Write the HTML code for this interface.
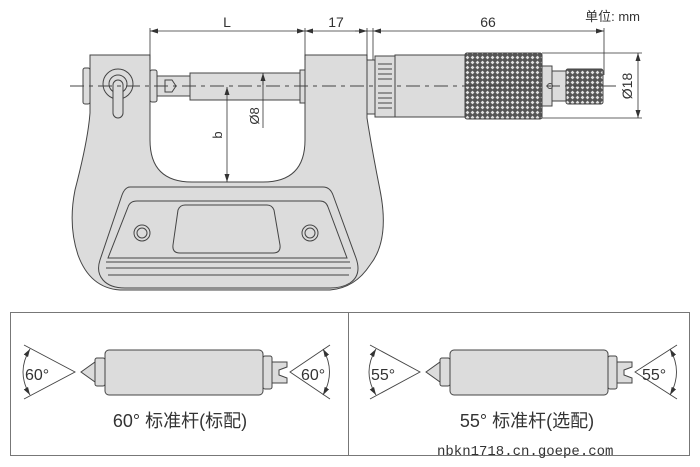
<!DOCTYPE html>
<html><head><meta charset="utf-8"><style>
html,body{margin:0;padding:0;background:#fff;}
svg{display:block;}
text{font-family:"Liberation Sans","Noto Sans CJK SC",sans-serif;fill:#333;}
</style></head><body>
<svg width="700" height="467" viewBox="0 0 700 467" xmlns="http://www.w3.org/2000/svg">
<defs>
<pattern id="kn" width="5" height="5" patternUnits="userSpaceOnUse">
<rect width="5" height="5" fill="#555"/>
<path d="M2.5 0.6 L4.4 2.5 L2.5 4.4 L0.6 2.5Z" fill="#e0e0e0"/>
</pattern>
<marker id="ar" markerWidth="8" markerHeight="6" refX="8" refY="3" orient="auto-start-reverse" markerUnits="userSpaceOnUse"><path d="M0 0.5 L8 3 L0 5.5Z" fill="#333"/></marker>
</defs>
<g stroke="#444" stroke-width="1" fill="#dcdcdc">
<path d="M90 55 L150 55 L150 140 Q150 182 192 182 L263 182 Q305 182 305 140 L305 55 L367 55 L367 118 Q372 150 380 190 Q390 240 370 265 Q355 288 330 290 L120 290 Q90 288 78 255 Q68 225 75 190 Q88 140 90 113 Z"/>
<path d="M130 187 L323 187 Q330 187 333 195 L356 258 Q362 275 350 283 Q342 288 330 288 L125 288 Q110 288 103 280 Q96 272 100 260 L122 195 Q125 187 130 187Z"/>
<path d="M137 201 L320 201 Q326 201 328 207 L347 258 L108 258 L128 207 Q130 201 137 201Z"/>
<path d="M185 205 L267 205 Q272 205 274 210 L280 245 Q281 253 273 253 L180 253 Q172 253 173 245 L178 210 Q180 205 185 205Z"/>
<line x1="106" y1="262" x2="350" y2="262"/><line x1="106" y1="268" x2="351" y2="268"/><line x1="108" y1="275" x2="349" y2="275"/>
<circle cx="142" cy="233" r="8"/><circle cx="142" cy="233" r="5"/>
<circle cx="310" cy="233" r="8"/><circle cx="310" cy="233" r="5"/>
<rect x="83" y="68" width="7" height="36" rx="2"/>
<circle cx="118" cy="84" r="15" fill="#dcdcdc"/><circle cx="118" cy="84" r="9"/>
<rect x="113" y="80" width="10" height="38" rx="5"/>
<rect x="150" y="70" width="7" height="32" rx="2"/>
<rect x="157" y="76" width="33" height="20"/>
<path d="M165 80 L172 80 L176 86 L172 92 L165 92Z" fill="#dcdcdc"/>
<rect x="190" y="73" width="112" height="27"/>
<rect x="300" y="70" width="5" height="33"/>
<rect x="367" y="60" width="8" height="54"/>
<rect x="375" y="56" width="20" height="61"/>
<rect x="395" y="55" width="70" height="62"/>
<rect x="465" y="53" width="77" height="66" rx="2" fill="url(#kn)"/>
<rect x="542" y="66" width="10" height="40"/>
<rect x="552" y="71" width="14" height="30"/>
<rect x="566" y="69" width="37" height="35" rx="2" fill="url(#kn)"/>
<circle cx="550" cy="86" r="2.5" fill="#dcdcdc"/>
</g>
<g stroke="#444" stroke-width="1">
<line x1="378" y1="64" x2="392" y2="64"/><line x1="378" y1="69" x2="392" y2="69"/><line x1="378" y1="74" x2="392" y2="74"/><line x1="378" y1="79" x2="392" y2="79"/>
<line x1="378" y1="93" x2="392" y2="93"/><line x1="378" y1="98" x2="392" y2="98"/><line x1="378" y1="103" x2="392" y2="103"/><line x1="378" y1="108" x2="392" y2="108"/>
</g>
<line x1="70" y1="86" x2="620" y2="86" stroke="#444" stroke-width="1" stroke-dasharray="14,5,4,5"/>
<g stroke="#333" stroke-width="0.8" fill="none">
<line x1="150" y1="28" x2="150" y2="60"/><line x1="305" y1="28" x2="305" y2="60"/>
<line x1="367" y1="28" x2="367" y2="60"/><line x1="373" y1="28" x2="373" y2="60"/>
<line x1="604" y1="28" x2="604" y2="75"/>
<line x1="150" y1="31" x2="305" y2="31" marker-start="url(#ar)" marker-end="url(#ar)"/>
<line x1="305" y1="31" x2="367" y2="31" marker-start="url(#ar)" marker-end="url(#ar)"/>
<line x1="373" y1="31" x2="355" y2="31"/>
<line x1="373" y1="31" x2="604" y2="31" marker-start="url(#ar)" marker-end="url(#ar)"/>
<line x1="542" y1="53" x2="642" y2="53"/><line x1="542" y1="118" x2="642" y2="118"/>
<line x1="638" y1="53" x2="638" y2="118" marker-start="url(#ar)" marker-end="url(#ar)"/>
<line x1="227" y1="87" x2="227" y2="182" marker-start="url(#ar)" marker-end="url(#ar)"/>
<line x1="263" y1="73" x2="263" y2="128"/>
<line x1="263" y1="73" x2="263" y2="85" marker-start="url(#ar)"/>
</g>
<text x="227" y="27" font-size="14" text-anchor="middle">L</text>
<text x="336" y="27" font-size="14" text-anchor="middle">17</text>
<text x="488" y="27" font-size="14" text-anchor="middle">66</text>
<text x="640" y="21" font-size="13" text-anchor="end">单位: mm</text>
<text transform="translate(632,86) rotate(-90)" font-size="14" text-anchor="middle">Ø18</text>
<text transform="translate(259,116) rotate(-90)" font-size="13" text-anchor="middle">Ø8</text>
<text transform="translate(222,135) rotate(-90)" font-size="13" text-anchor="middle">b</text>
<rect x="10.5" y="312.5" width="679" height="143" fill="none" stroke="#777" stroke-width="1"/>
<line x1="348.5" y1="312" x2="348.5" y2="456" stroke="#777"/>
<g stroke="#444" stroke-width="1" fill="#dcdcdc">
<path d="M81 372 L95 362 L95 382Z"/>
<rect x="95" y="358" width="10" height="28" rx="2"/>
<rect x="105" y="350" width="158" height="45" rx="4"/>
<rect x="263" y="356" width="9" height="33" rx="2"/>
<path d="M272 362 L287 362 L287 367 L279 370 L279 375 L287 378 L287 383 L272 383Z"/>
<path d="M426 372 L440 362 L440 382Z"/>
<rect x="440" y="358" width="10" height="28" rx="2"/>
<rect x="450" y="350" width="158" height="45" rx="4"/>
<rect x="608" y="356" width="9" height="33" rx="2"/>
<path d="M617 362 L632 362 L632 367 L624 370 L624 375 L632 378 L632 383 L617 383Z"/>
</g>
<g stroke="#444" stroke-width="0.9" fill="none">
<path d="M24 345 L75 372 L24 399"/><path d="M30 349 Q16 372 30 395" marker-start="url(#ar)" marker-end="url(#ar)"/>
<path d="M330 345 L290 372 L330 399"/><path d="M323 349 Q336 372 323 395" marker-start="url(#ar)" marker-end="url(#ar)"/>
<path d="M370 345 L420 372 L370 399"/><path d="M376 349 Q362 372 376 395" marker-start="url(#ar)" marker-end="url(#ar)"/>
<path d="M677 345 L635 372 L677 399"/><path d="M670 349 Q683 372 670 395" marker-start="url(#ar)" marker-end="url(#ar)"/>
</g>
<text x="25" y="380" font-size="16">60°</text>
<text x="301" y="380" font-size="16">60°</text>
<text x="371" y="380" font-size="16">55°</text>
<text x="642" y="380" font-size="16">55°</text>
<text x="180" y="427" font-size="18" text-anchor="middle">60° 标准杆(标配)</text>
<text x="527" y="427" font-size="18" text-anchor="middle">55° 标准杆(选配)</text>
<text x="437" y="455" font-size="14" style="font-family:'Liberation Mono',monospace">nbkn1718.cn.goepe.com</text>
</svg>
</body></html>
